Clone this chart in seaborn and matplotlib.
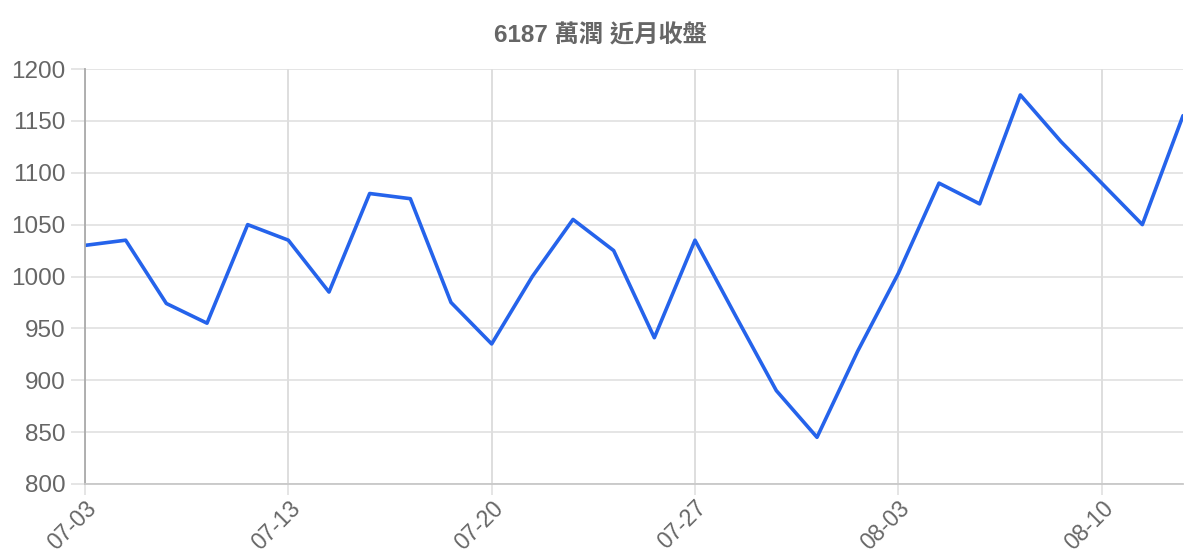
import matplotlib
matplotlib.use("Agg")
import matplotlib.pyplot as plt
import seaborn as sns
import pandas as pd

# 每日收盤
dates = ["07-03", "07-06", "07-07", "07-08", "07-09",
         "07-13", "07-14", "07-15", "07-16", "07-17",
         "07-20", "07-21", "07-22", "07-23", "07-24",
         "07-27", "07-28", "07-29", "07-30", "07-31",
         "08-03", "08-04", "08-05", "08-06", "08-07",
         "08-10", "08-11", "08-12"]
close = [1030, 1035, 974, 955, 1050,
         1035, 985, 1080, 1075, 975,
         935, 1000, 1055, 1025, 941,
         1035, 962, 890, 845, 928,
         1003, 1090, 1070, 1175, 1130,
         1090, 1050, 1155]
title = "6187 萬潤 近月收盤"

df = pd.DataFrame({"idx": range(len(dates)), "date": dates, "close": close})

sns.set_theme(style="whitegrid")
plt.rcParams["font.family"] = ["Liberation Sans", "Noto Sans CJK TC", "DejaVu Sans"]

gray = "#666666"
fig = plt.figure(figsize=(12, 5.6), dpi=100)
ax = fig.add_axes([85 / 1200, 1 - 484 / 560, (1183 - 85) / 1200, (484 - 69) / 560])

sns.lineplot(data=df, x="idx", y="close", ax=ax, color="#2563eb", linewidth=2.6)

ax.set_xlim(0, len(dates) - 1)
ax.set_ylim(800, 1200)
ax.set_yticks(range(800, 1201, 50))
ticks = list(range(0, len(dates), 5))
ax.set_xticks(ticks)
ax.set_xticklabels([dates[i] for i in ticks], rotation=45, ha="right",
                   rotation_mode="anchor")
ax.set_xlabel("")
ax.set_ylabel("")

ax.grid(True, axis="y", color="#dedede", linewidth=1.1)
ax.grid(True, axis="x", color="#d4d4d4", linewidth=1.1)
ax.tick_params(axis="both", colors="#dedede", labelcolor=gray, labelsize=17.5,
               length=10, width=1.1, pad=4, left=True, bottom=True)
ax.tick_params(axis="x", labelsize=16.5, length=8, pad=1)
for s in ["top", "right"]:
    ax.spines[s].set_visible(False)
ax.spines["left"].set_color("#aaaaaa")
ax.spines["left"].set_linewidth(1.3)
ax.spines["bottom"].set_color("#c8c8c8")
ax.spines["bottom"].set_linewidth(1.3)

fig.text(0.5, 1 - 36 / 560, title, ha="center", va="center", fontsize=17.5,
         fontweight="bold", color=gray)

fig.savefig("out.png", dpi=100)
